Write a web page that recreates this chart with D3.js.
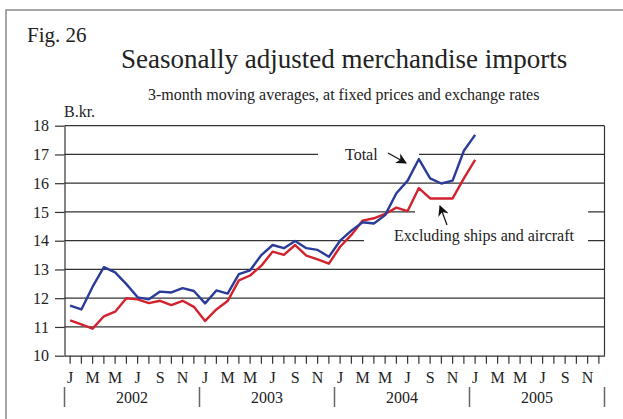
<!DOCTYPE html>
<html>
<head>
<meta charset="utf-8">
<script src="https://cdn.jsdelivr.net/npm/d3@7"></script>
<style>
  body { margin: 0; background: #fff; }
  svg { display: block; font-family: "Liberation Serif", "Times New Roman", serif; }
</style>
</head>
<body>
<svg id="chart" width="623" height="419"></svg>
<script>
// monthly data, Jan 2002 .. Jan 2005 (3-month moving averages, B.kr.)
const total = [11.74, 11.61, 12.40, 13.08, 12.90, 12.49, 12.03, 11.96, 12.23, 12.20, 12.35, 12.25,
               11.82, 12.27, 12.16, 12.84, 12.97, 13.50, 13.85, 13.74, 13.99, 13.74, 13.68, 13.44,
               14.00, 14.35, 14.64, 14.60, 14.89, 15.65, 16.09, 16.84, 16.17, 15.99, 16.09, 17.13,
               17.68];
const excl = [11.23, 11.09, 10.94, 11.37, 11.53, 12.00, 11.96, 11.83, 11.91, 11.76, 11.91, 11.70,
              11.21, 11.61, 11.90, 12.62, 12.79, 13.13, 13.62, 13.51, 13.85, 13.48, 13.35, 13.20,
              13.79, 14.20, 14.70, 14.78, 14.93, 15.15, 15.03, 15.83, 15.47, 15.47, 15.47, 16.17,
              16.81];
const years = ['2002', '2003', '2004', '2005'];
const monthLetters = ['J', '', 'M', '', 'M', '', 'J', '', 'S', '', 'N', ''];
const yTicks = [10, 11, 12, 13, 14, 15, 16, 17, 18];

const svg = d3.select('#chart');
const plotL = 64.5, plotR = 604.5, plotT = 125.7, plotB = 355.7;
const ink = '#333';

const months = d3.range(years.length * 12);
const x = d3.scaleBand().domain(months).range([plotL, plotR]);
const xYear = d3.scaleBand().domain(years).range([plotL, plotR]);
const y = d3.scaleLinear().domain([10, 18]).range([plotB, plotT]);
const xc = (i) => x(i) + x.bandwidth() / 2;

// outer frame
svg.append('rect').attr('x', 6).attr('y', 10).attr('width', 660).attr('height', 460)
   .attr('fill', 'none').attr('stroke', '#888').attr('stroke-width', 1.5);

// titles
svg.append('text').attr('x', 27).attr('y', 42).attr('font-size', 21).attr('fill', '#222').text('Fig. 26');
svg.append('text').attr('x', 121).attr('y', 68).attr('font-size', 27).attr('fill', '#222')
   .text('Seasonally adjusted merchandise imports');
svg.append('text').attr('x', 148).attr('y', 100).attr('font-size', 16).attr('fill', '#222')
   .text('3-month moving averages, at fixed prices and exchange rates');
svg.append('text').attr('x', 64).attr('y', 117).attr('font-size', 16).attr('fill', '#222').text('B.kr.');

// gridlines
svg.append('g').selectAll('line').data(yTicks.slice(1)).join('line')
   .attr('x1', plotL).attr('x2', plotR)
   .attr('y1', d => y(d)).attr('y2', d => y(d))
   .attr('stroke', ink).attr('stroke-width', 1.2);

// white boxes behind the labels
const masks = [[318, 145, 101, 18], [364, 228, 224, 24], [415, 204, 173, 24]];
svg.append('g').selectAll('rect').data(masks).join('rect')
   .attr('x', d => d[0]).attr('y', d => d[1]).attr('width', d => d[2]).attr('height', d => d[3])
   .attr('fill', '#fff');

// frame right
svg.append('line').attr('x1', plotR).attr('x2', plotR).attr('y1', plotT).attr('y2', plotB)
   .attr('stroke', ink).attr('stroke-width', 1.2);

// y axis
const yAxis = svg.append('g').attr('transform', `translate(${plotL},0)`)
   .call(d3.axisLeft(y).tickValues(yTicks).tickSize(9.5).tickPadding(6).tickSizeOuter(0));
yAxis.select('.domain').attr('stroke', ink).attr('stroke-width', 1.2);
yAxis.selectAll('line').attr('stroke', ink).attr('stroke-width', 1.2);
yAxis.selectAll('text').attr('font-size', 16).attr('font-family', '"Liberation Serif", serif').attr('fill', '#222');

// x axis (months)
const xAxis = svg.append('g').attr('transform', `translate(0,${plotB})`)
   .call(d3.axisBottom(x).tickSize(8).tickPadding(8).tickSizeOuter(0)
     .tickFormat(i => monthLetters[i % 12]));
xAxis.select('.domain').attr('stroke', ink).attr('stroke-width', 1.2);
xAxis.selectAll('line').attr('stroke', ink).attr('stroke-width', 1.2);
xAxis.selectAll('text').attr('font-size', 16).attr('font-family', '"Liberation Serif", serif').attr('fill', '#222');

// years
svg.append('g').selectAll('text').data(years).join('text')
   .attr('x', d => xYear(d) + xYear.bandwidth() / 2).attr('y', 403)
   .attr('text-anchor', 'middle').attr('font-size', 16).attr('fill', '#222').text(d => d);
svg.append('g').selectAll('line').data(d3.range(years.length + 1)).join('line')
   .attr('x1', i => plotL + i * xYear.step()).attr('x2', i => plotL + i * xYear.step())
   .attr('y1', 387).attr('y2', 407).attr('stroke', '#666').attr('stroke-width', 1.5);

// series
const line = d3.line().x((d, i) => xc(i)).y(d => y(d));
svg.append('path').datum(excl).attr('d', line).attr('fill', 'none')
   .attr('stroke', '#d2222e').attr('stroke-width', 2.4).attr('stroke-linejoin', 'round');
svg.append('path').datum(total).attr('d', line).attr('fill', 'none')
   .attr('stroke', '#2a3b98').attr('stroke-width', 2.4).attr('stroke-linejoin', 'round');

// annotations
svg.append('defs').append('marker').attr('id', 'head')
   .attr('viewBox', '0 0 10 10').attr('refX', 9).attr('refY', 5)
   .attr('markerWidth', 9).attr('markerHeight', 9).attr('orient', 'auto')
   .append('path').attr('d', 'M0,0 L10,5 L0,10 L3,5 Z').attr('fill', '#111');

svg.append('text').attr('x', 345).attr('y', 160).attr('font-size', 16).attr('fill', '#222').text('Total');
svg.append('line').attr('x1', 388).attr('y1', 153).attr('x2', 406).attr('y2', 163)
   .attr('stroke', '#111').attr('stroke-width', 1.2).attr('marker-end', 'url(#head)');

svg.append('text').attr('x', 394).attr('y', 241).attr('font-size', 16).attr('fill', '#222')
   .text('Excluding ships and aircraft');
svg.append('line').attr('x1', 447).attr('y1', 225).attr('x2', 440).attr('y2', 206)
   .attr('stroke', '#111').attr('stroke-width', 1.2).attr('marker-end', 'url(#head)');
</script>
</body>
</html>
